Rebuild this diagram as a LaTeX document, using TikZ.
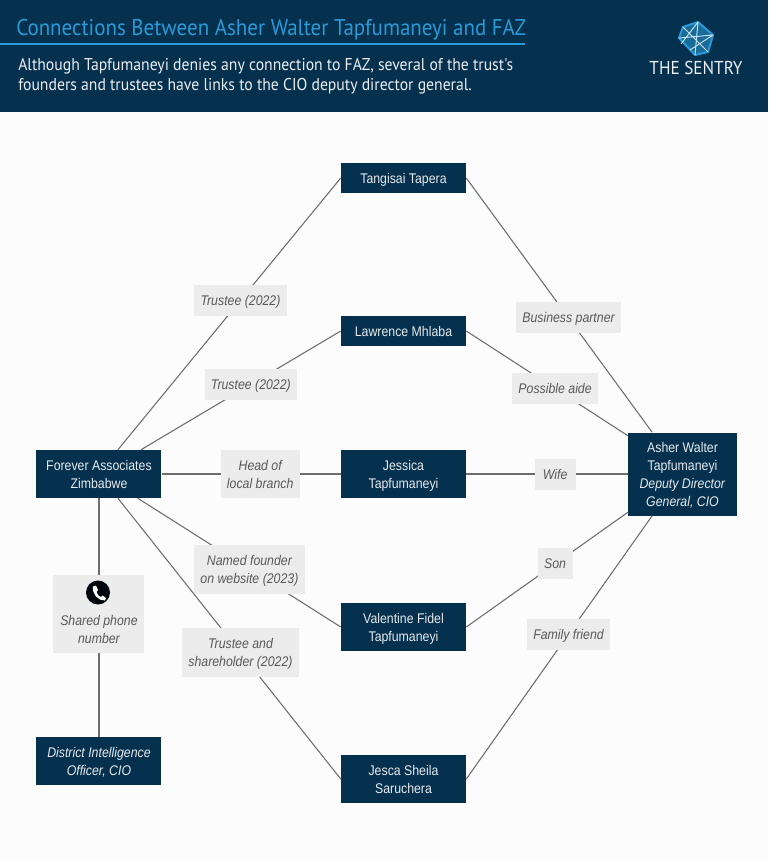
\documentclass[tikz,border=0pt]{standalone}
\usepackage{fontspec}
\setmainfont[FakeStretch=0.88]{Liberation Sans}
\newfontfamily\headfont[FakeStretch=0.92]{PT Sans}
\usetikzlibrary{positioning}

\definecolor{navy}{HTML}{05314F}
\definecolor{skyblue}{HTML}{2A9AD6}
\definecolor{taggray}{HTML}{ECECEC}
\definecolor{tagtext}{HTML}{595959}
\definecolor{linkgray}{HTML}{6E6E6E}

\tikzset{
  person/.style={fill=navy, text=white!90!navy, minimum width=93.75pt, align=center, inner sep=0pt, text depth=0pt, font=\fontsize{10.5}{13.5}\selectfont},
  tag/.style={fill=taggray, text=tagtext, align=center, inner sep=0pt, text depth=0pt, minimum height=23.25pt, font=\itshape\fontsize{10.5}{13.5}\selectfont},
  link/.style={draw=linkgray, line width=0.8pt}
}

\begin{document}
\begin{tikzpicture}[x=0.75pt, y=-0.75pt, on grid]

\useasboundingbox (0,0) rectangle (768,859);
\fill[white!99!black] (0,0) rectangle (768,859);

% Header band
\fill[navy] (0,0) rectangle (768,112);
\draw[skyblue, line width=0.8pt] (0,44) -- (525,44);
\node[anchor=base west, inner sep=0pt, text=skyblue, font=\headfont\fontsize{17.1}{18}\selectfont] (title) at (16,35.7) {Connections Between Asher Walter Tapfumaneyi and FAZ};
\node[anchor=west, inner sep=0pt, text=white!92!navy, align=left, font=\headfont\fontsize{12.8}{15}\selectfont] (intro) at (18,76) {Although Tapfumaneyi denies any connection to FAZ, several of the trust's\\founders and trustees have links to the CIO deputy director general.};

% Logo
\fill[skyblue!55!navy] (698,22) -- (713,35) -- (708,52) -- (695,55) -- (679,38) -- (683,27) -- cycle;
\draw[skyblue, line width=1.5pt, line join=round] (698,22) -- (713,35) -- (708,52) -- (695,55) -- (679,38) -- (683,27) -- cycle;
\draw[white!75!skyblue, line width=0.7pt] (683,27) -- (708,52) (698,22) -- (695,55) (679,38) -- (713,35) (698,22) -- (681,44) (713,35) -- (690,50);
\node[anchor=base, inner sep=0pt, text=white!92!navy, font=\headfont\fontsize{14}{16}\selectfont] (brand) at (696,75) {THE SENTRY};

% Define the people
\node[person, minimum height=36pt] (jessica) at (403.5,474) {Jessica\\Tapfumaneyi};
\node[person, minimum height=22.5pt] (lawrence) [above=107.25pt of jessica] {Lawrence Mhlaba};
\node[person, minimum height=22.5pt] (tangisai) [above=114.75pt of lawrence] {Tangisai Tapera};
\node[person, minimum height=36pt] (valentine) [below=114.75pt of jessica] {Valentine Fidel\\Tapfumaneyi};
\node[person, minimum height=36pt] (jesca) [below=114pt of valentine] {Jesca Sheila\\Saruchera};
\node[person, minimum height=36pt] (forever) [left=228.4pt of jessica] {Forever Associates\\Zimbabwe};
\node[person, minimum height=36pt, font=\itshape\fontsize{10.5}{13.5}\selectfont] (district) [below=215.25pt of forever] {District Intelligence\\Officer, CIO};
\node[person, minimum width=81.75pt, minimum height=62.25pt] (asher) [right=209.25pt of jessica] {Asher Walter\\Tapfumaneyi\\\textit{Deputy Director}\\\textit{General, CIO}};

% Left side links
\draw[link] (forever.52) -- node[tag, pos=.55, minimum width=69.75pt] (t1) {Trustee (2022)} (tangisai.west);
\draw[link] (forever.30) -- node[tag, pos=.55, minimum width=69pt] (t2) {Trustee (2022)} (lawrence.west);
\draw[link] (forever.east) -- node[tag, pos=.55, minimum width=59.25pt, minimum height=36pt] (t3) {Head of\\local branch} (jessica.west);
\draw[link] (forever.-32) -- node[tag, pos=.55, minimum width=83.25pt, minimum height=36.75pt] (t4) {Named founder\\on website (2023)} (valentine.west);
\draw[link] (forever.-52) -- node[tag, pos=.55, minimum width=87.75pt, minimum height=36.75pt] (t5) {Trustee and\\shareholder (2022)} (jesca.west);

% Right side links
\draw[link] (tangisai.east) -- node[tag, pos=.55, minimum width=78.75pt] (t6) {Business partner} (asher.126);
\draw[link] (lawrence.east) -- node[tag, pos=.55, minimum width=64.5pt] (t7) {Possible aide} (asher.145.5);
\draw[link] (jessica.east) -- node[tag, pos=.55, minimum width=30.75pt] (t8) {Wife} (asher.west);
\draw[link] (valentine.east) -- node[tag, pos=.55, minimum width=26.25pt] (t9) {Son} (asher.-145);
\draw[link] (jesca.east) -- node[tag, pos=.55, minimum width=62.25pt] (t10) {Family friend} (asher.-126);

% Shared phone
\draw[link] (forever.south) -- node[tag, pos=.485, minimum width=68.25pt, minimum height=58.5pt] (t11) {\rule{0pt}{18pt}\\Shared phone\\number} (district.north);
\fill[black!85!navy] (98,592.5) circle (12);
\fill[white] (93,586.5) -- (96,585.5) -- (98,590) -- (96.5,592) .. controls (97,594.5) and (99,596.5) .. (101,597) -- (102.5,595.5) -- (106,598) -- (105,600.5) .. controls (98,601) and (92,594) .. (93,586.5) -- cycle;

\end{tikzpicture}
\end{document}
